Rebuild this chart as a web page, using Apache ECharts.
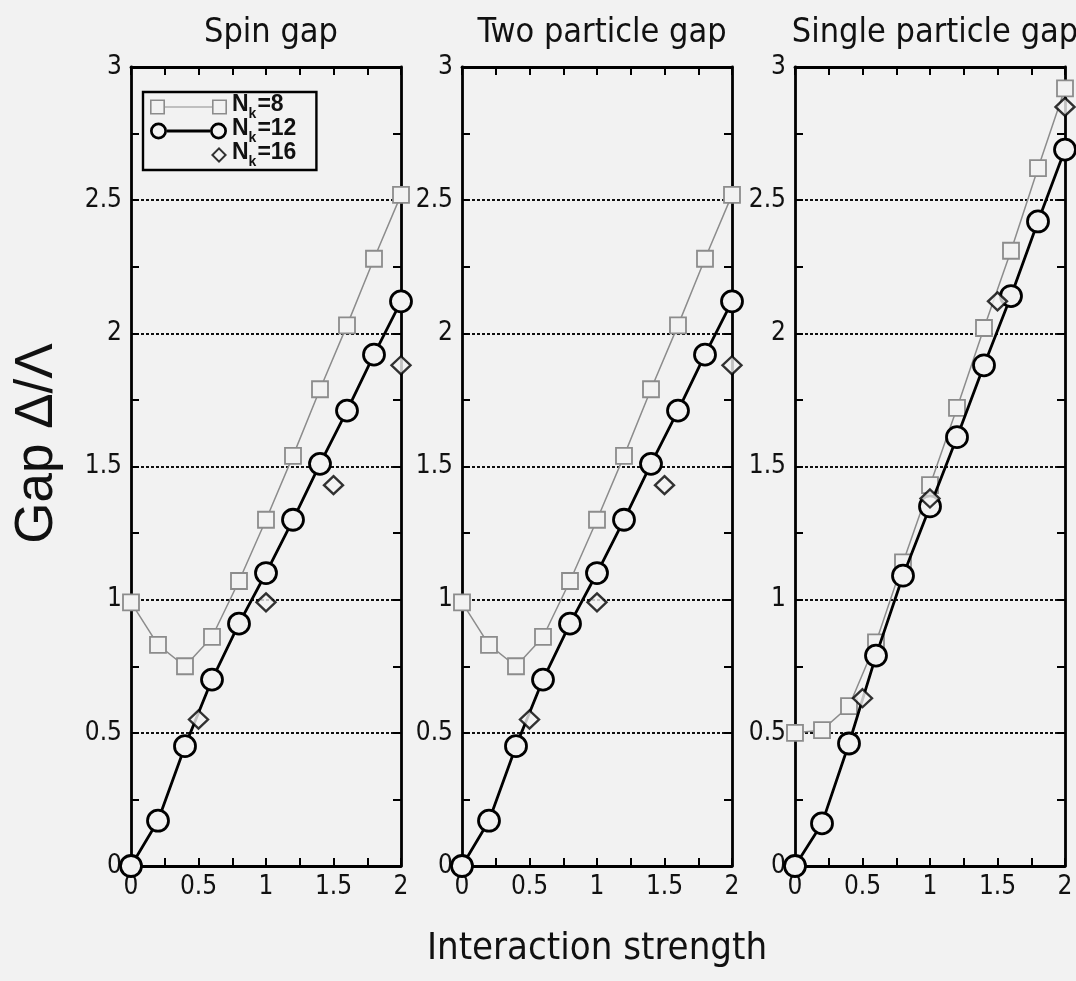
<!DOCTYPE html>
<html>
<head>
<meta charset="utf-8">
<script src="https://cdn.jsdelivr.net/npm/echarts@6/dist/echarts.min.js"></script>
<style>
  html, body { margin: 0; padding: 0; background: #f2f2f2; }
  #chart { width: 1076px; height: 981px; }
</style>
</head>
<body>
<div id="chart"></div>
<script>
// data
const panelTitles = ['Spin gap', 'Two particle gap', 'Single particle gap'];
const seriesNames = ['N_k=8', 'N_k=12', 'N_k=16'];
const xFine = [0, 0.2, 0.4, 0.6, 0.8, 1.0, 1.2, 1.4, 1.6, 1.8, 2.0];
const xCoarse = [0.5, 1.0, 1.5, 2.0];

const spin8 = [0.99, 0.83, 0.75, 0.86, 1.07, 1.30, 1.54, 1.79, 2.03, 2.28, 2.52];
const spin12 = [0, 0.17, 0.45, 0.70, 0.91, 1.10, 1.30, 1.51, 1.71, 1.92, 2.12];
const spin16 = [0.55, 0.99, 1.43, 1.88];

const two8 = [0.99, 0.83, 0.75, 0.86, 1.07, 1.30, 1.54, 1.79, 2.03, 2.28, 2.52];
const two12 = [0, 0.17, 0.45, 0.70, 0.91, 1.10, 1.30, 1.51, 1.71, 1.92, 2.12];
const two16 = [0.55, 0.99, 1.43, 1.88];

const single8 = [0.50, 0.51, 0.60, 0.84, 1.14, 1.43, 1.72, 2.02, 2.31, 2.62, 2.92];
const single12 = [0, 0.16, 0.46, 0.79, 1.09, 1.35, 1.61, 1.88, 2.14, 2.42, 2.69];
const single16 = [0.63, 1.38, 2.12, 2.85];

const panels = [
    [spin8, spin12, spin16],
    [two8, two12, two16],
    [single8, single12, single16]
];

const BG = '#f2f2f2';
const NARROW = '"Liberation Sans Narrow", "DejaVu Sans Condensed", sans-serif';
const WIDE = '"Liberation Sans", Arial, sans-serif';
const gridLefts = [131, 462, 795];

const pair = (xs, ys) => xs.map((x, i) => [x, ys[i]]);

// legend icons: symbol - line - symbol, drawn as rings so they look hollow (77 x 17 box)
const iconSquares = 'path://M0 0 L0 0 Z M77 17 L77 17 Z ' +
    'M0 1 L15 1 L15 16 L0 16 Z M1.6 2.6 L1.6 14.4 L13.4 14.4 L13.4 2.6 Z ' +
    'M15 7.9 L62 7.9 L62 9.1 L15 9.1 Z ' +
    'M62 1 L77 1 L77 16 L62 16 Z M63.6 2.6 L63.6 14.4 L75.4 14.4 L75.4 2.6 Z';
const iconCircles = 'path://M0 0 L0 0 Z M77 17 L77 17 Z ' +
    'M0 8.5 A8.5 8.5 0 1 1 17 8.5 A8.5 8.5 0 1 1 0 8.5 Z M2.7 8.5 A5.8 5.8 0 1 0 14.3 8.5 A5.8 5.8 0 1 0 2.7 8.5 Z ' +
    'M17 7 L60 7 L60 10 L17 10 Z ' +
    'M60 8.5 A8.5 8.5 0 1 1 77 8.5 A8.5 8.5 0 1 1 60 8.5 Z M62.7 8.5 A5.8 5.8 0 1 0 74.3 8.5 A5.8 5.8 0 1 0 62.7 8.5 Z';
const iconDiamond = 'path://M0 0 L0 0 Z M77 17 L77 17 Z ' +
    'M61 8.5 L69 0.5 L77 8.5 L69 16.5 Z M63.8 8.5 L69 13.7 L74.2 8.5 L69 3.3 Z';

const grids = [], xAxes = [], yAxes = [], series = [];

gridLefts.forEach((left, g) => {
    grids.push({ left: left, top: 67, width: 270, height: 799, containLabel: false, outerBoundsMode: 'none' });

    const tick = { show: true, inside: true, length: 8, lineStyle: { color: '#000', width: 2 } };
    const minor = { show: true, splitNumber: 2, length: 8, lineStyle: { color: '#000', width: 2 } };
    const line = { show: true, onZero: false, lineStyle: { color: '#000', width: 2.8 } };
    const label = { color: '#111', fontSize: 26, fontFamily: NARROW };

    xAxes.push({
        gridIndex: g, type: 'value', min: 0, max: 2, interval: 0.5, position: 'bottom',
        axisLine: line, axisTick: tick, minorTick: minor, splitLine: { show: false },
        axisLabel: Object.assign({ margin: 8 }, label),
        name: g === 1 ? 'Interaction strength' : '',
        nameLocation: 'middle', nameGap: 64,
        nameTextStyle: { color: '#111', fontSize: 38, fontFamily: NARROW }
    });
    xAxes.push({
        gridIndex: g, type: 'value', min: 0, max: 2, interval: 0.5, position: 'top',
        axisLine: line, axisTick: tick, minorTick: minor, splitLine: { show: false },
        axisLabel: { show: false }
    });
    yAxes.push({
        gridIndex: g, type: 'value', min: 0, max: 3, interval: 0.5, position: 'left',
        axisLine: line, axisTick: tick, minorTick: minor,
        splitLine: { show: true, lineStyle: { color: '#111', width: 1.8, type: [3, 2] } },
        axisLabel: Object.assign({ margin: 9 }, label),
        name: g === 0 ? 'Gap \u0394/\u039B' : '',
        nameLocation: 'middle', nameRotate: 90, nameGap: 67,
        nameTextStyle: { color: '#111', fontSize: 53, fontFamily: WIDE, padding: [0, 0, 0, 46] }
    });
    yAxes.push({
        gridIndex: g, type: 'value', min: 0, max: 3, interval: 0.5, position: 'right',
        axisLine: line, axisTick: tick, minorTick: minor, splitLine: { show: false },
        axisLabel: { show: false }
    });

    const [d8, d12, d16] = panels[g];
    series.push({
        name: seriesNames[0], type: 'line', xAxisIndex: 2 * g, yAxisIndex: 2 * g,
        data: pair(xFine, d8), symbol: 'rect', symbolSize: 16, z: 2,
        lineStyle: { color: '#8c8c8c', width: 1.5 },
        itemStyle: { color: BG, borderColor: '#8c8c8c', borderWidth: 1.8 }
    });
    series.push({
        name: seriesNames[1], type: 'line', xAxisIndex: 2 * g, yAxisIndex: 2 * g,
        data: pair(xFine, d12), symbol: 'circle', symbolSize: 21, z: 3,
        lineStyle: { color: '#000', width: 2.8 },
        itemStyle: { color: BG, borderColor: '#000', borderWidth: 2.8 }
    });
    series.push({
        name: seriesNames[2], type: 'scatter', xAxisIndex: 2 * g, yAxisIndex: 2 * g,
        data: pair(xCoarse, d16), symbol: 'diamond', symbolSize: [19, 18], z: 4,
        itemStyle: { color: BG, borderColor: '#000', borderWidth: 2.4 }
    });
});

const chart = echarts.init(document.getElementById('chart'));
chart.setOption({
    backgroundColor: BG,
    animation: false,
    title: panelTitles.map((t, i) => ({
        text: t, left: gridLefts[i] + 135, top: 11, textAlign: 'center',
        textStyle: { color: '#111', fontSize: 34, fontWeight: 'normal', fontFamily: NARROW }
    })),
    legend: {
        orient: 'vertical', left: 143, top: 92,
        padding: [1, 20, 1, 7], itemGap: -4, itemWidth: 77, itemHeight: 17,
        borderColor: '#000', borderWidth: 2.4, backgroundColor: BG,
        selectedMode: false,
        data: [
            { name: seriesNames[0], icon: iconSquares, itemStyle: { color: '#8c8c8c', borderWidth: 0 } },
            { name: seriesNames[1], icon: iconCircles, itemStyle: { color: '#000', borderWidth: 0 } },
            { name: seriesNames[2], icon: iconDiamond, itemStyle: { color: '#000', borderWidth: 0 } }
        ],
        formatter: name => '{n|N}{s|k}{t|=' + name.split('=')[1] + '}',
        textStyle: {
            fontFamily: WIDE, color: '#111',
            rich: {
                n: { fontSize: 23, fontWeight: 'bold', fontFamily: WIDE, lineHeight: 18, verticalAlign: 'bottom' },
                s: { fontSize: 14, fontWeight: 'bold', fontFamily: WIDE, lineHeight: 18, verticalAlign: 'bottom', padding: [0, 1, -5, 0] },
                t: { fontSize: 23, fontWeight: 'bold', fontFamily: WIDE, lineHeight: 18, verticalAlign: 'bottom' }
            }
        }
    },
    grid: grids,
    xAxis: xAxes,
    yAxis: yAxes,
    series: series
});
</script>
</body>
</html>
